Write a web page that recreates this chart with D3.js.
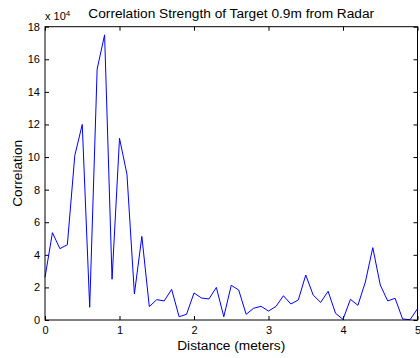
<!DOCTYPE html>
<html>
<head>
<meta charset="utf-8">
<script src="https://cdn.jsdelivr.net/npm/d3@7"></script>
<style>
  html, body { margin: 0; padding: 0; background: #fff; }
  svg { display: block; font-family: "Liberation Sans", Arial, Helvetica, sans-serif; }
</style>
</head>
<body>
<svg id="chart" width="420" height="358"></svg>
<script>
// Distance samples (meters), 0.1 m spacing
const distance = d3.range(0, 51).map(i => +(i / 10).toFixed(1));
// Correlation values in units of 1e4
const correlation = [
  2.62, 5.36, 4.38, 4.62, 10.1, 12.0, 0.78, 15.4, 17.5, 2.50,
  11.15, 8.95, 1.60, 5.13, 0.82, 1.25, 1.17, 1.88, 0.20, 0.35,
  1.66, 1.35, 1.29, 2.00, 0.20, 2.13, 1.84, 0.35, 0.72, 0.84,
  0.55, 0.83, 1.49, 0.98, 1.23, 2.76, 1.53, 1.08, 1.76, 0.41,
  0.04, 1.27, 0.90, 2.33, 4.44, 2.15, 1.17, 1.33, 0.06, 0.02,
  0.69
];
const xTicks = [0, 1, 2, 3, 4, 5];
const yTicks = [0, 2, 4, 6, 8, 10, 12, 14, 16, 18];

const titleText = "Correlation Strength of Target 0.9m from Radar";
const xLabel = "Distance (meters)";
const yLabel = "Correlation";

const box = { left: 45, right: 417.5, top: 26.7, bottom: 320 };

const svg = d3.select("#chart");
const x = d3.scaleLinear().domain([0, 5]).range([box.left, box.right]);
const y = d3.scaleLinear().domain([0, 18]).range([box.bottom, box.top]);

const tickLen = 4;
const labelSize = 13.7;

// Axes (ticks point inward, mirrored on the opposite sides)
const gBottom = svg.append("g").attr("transform", `translate(0,${box.bottom})`)
  .call(d3.axisBottom(x).tickValues(xTicks).tickSizeInner(-tickLen).tickSizeOuter(0).tickPadding(6).tickFormat(d3.format("d")));
const gTop = svg.append("g").attr("transform", `translate(0,${box.top})`)
  .call(d3.axisTop(x).tickValues(xTicks).tickSizeInner(-tickLen).tickSizeOuter(0).tickFormat(""));
const gLeft = svg.append("g").attr("transform", `translate(${box.left},0)`)
  .call(d3.axisLeft(y).tickValues(yTicks).tickSizeInner(-tickLen).tickSizeOuter(0).tickPadding(5).tickFormat(d3.format("d")));
const gRight = svg.append("g").attr("transform", `translate(${box.right},0)`)
  .call(d3.axisRight(y).tickValues(yTicks).tickSizeInner(-tickLen).tickSizeOuter(0).tickFormat(""));

[gBottom, gTop, gLeft, gRight].forEach(g => {
  g.select(".domain").remove();
  g.selectAll(".tick line").attr("stroke", "#000").attr("stroke-width", 1);
  g.selectAll(".tick text").attr("fill", "#000").attr("font-size", 11)
    .attr("font-family", "'Liberation Sans', Arial, sans-serif");
});

// Plot line
const line = d3.line()
  .x((d, i) => x(distance[i]))
  .y(d => y(d));
svg.append("path")
  .datum(correlation)
  .attr("fill", "none")
  .attr("stroke", "#0000ff")
  .attr("stroke-width", 1)
  .attr("stroke-linejoin", "miter")
  .attr("d", line);

// Axes box
svg.append("rect")
  .attr("x", box.left).attr("y", box.top)
  .attr("width", box.right - box.left).attr("height", box.bottom - box.top)
  .attr("fill", "none").attr("stroke", "#000").attr("stroke-width", 1);

// Exponent marker
const expo = svg.append("text").attr("x", 45).attr("y", 20).attr("font-size", 11).attr("fill", "#000");
expo.append("tspan").text("x 10");
expo.append("tspan").attr("dy", -4).attr("font-size", 8).text("4");

// Title and axis labels
svg.append("text")
  .attr("x", (box.left + box.right) / 2).attr("y", 18)
  .attr("text-anchor", "middle").attr("font-size", labelSize).attr("fill", "#000")
  .text(titleText);
svg.append("text")
  .attr("x", (box.left + box.right) / 2).attr("y", 350)
  .attr("text-anchor", "middle").attr("font-size", labelSize).attr("fill", "#000")
  .text(xLabel);
svg.append("text")
  .attr("transform", `translate(21.5,${(box.top + box.bottom) / 2}) rotate(-90)`)
  .attr("text-anchor", "middle").attr("font-size", labelSize).attr("fill", "#000")
  .text(yLabel);
</script>
</body>
</html>
